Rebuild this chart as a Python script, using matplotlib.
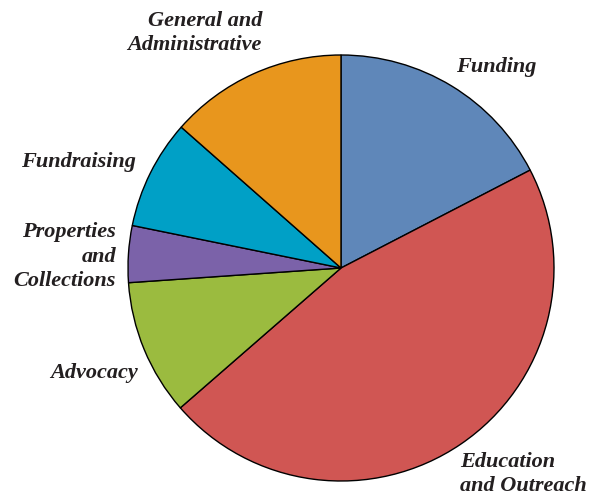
import matplotlib
matplotlib.use("Agg")
import matplotlib.pyplot as plt

# categories, clockwise from the top
categories = ["Funding", "Education\nand Outreach", "Advocacy",
              "Properties\nand\nCollections", "Fundraising",
              "General and\nAdministrative"]
shares = [17.4, 46.2, 10.3, 4.3, 8.3, 13.5]
colors = ["#5F87B9", "#D05653", "#9BBB3F", "#7B62A9", "#00A0C6", "#E8961D"]

# label anchor in pixels (x, y from top) and alignment
label_px = [(456, 67), (460, 474), (138, 373), (116, 257), (136, 162), (262, 33)]
label_ha = ["left", "left", "right", "right", "right", "right"]

W, H = 592, 498
cx, cy, r = 341, 268, 213

def px(x, y):
    return (x - cx) / r, (cy - y) / r

fig = plt.figure(figsize=(W / 100, H / 100), dpi=100)
ax = fig.add_axes([0, 0, 1, 1])
ax.pie(shares, colors=colors, startangle=90, counterclock=False,
       wedgeprops=dict(edgecolor="black", linewidth=1.0))
ax.set_xlim(px(0, 0)[0], px(W, 0)[0])
ax.set_ylim(px(0, H)[1], px(0, 0)[1])
ax.set_aspect("equal")
ax.axis("off")

for name, (x, y), ha in zip(categories, label_px, label_ha):
    ax.text(*px(x, y), name, ha=ha, va="center", multialignment=ha,
            fontsize=16, family="Liberation Serif", style="italic",
            weight="bold", color="#231F20", linespacing=1.3)

fig.savefig("out.png", dpi=100)
